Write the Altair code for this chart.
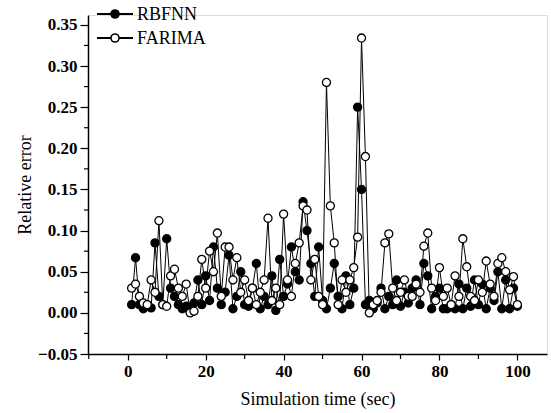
import altair as alt
import pandas as pd

time_sec = list(range(1, 101))
rbfnn = [0.010, 0.067, 0.010, 0.005, 0.008, 0.006, 0.085, 0.020, 0.010, 0.090,
         0.030, 0.020, 0.010, 0.005, 0.008, 0.003, 0.012, 0.040, 0.010, 0.045,
         0.015, 0.080, 0.030, 0.010, 0.025, 0.070, 0.005, 0.020, 0.050, 0.010,
         0.008, 0.030, 0.060, 0.005, 0.020, 0.010, 0.045, 0.003, 0.065, 0.020,
         0.035, 0.080, 0.050, 0.040, 0.135, 0.100, 0.060, 0.020, 0.080, 0.015,
         0.005, 0.030, 0.060, 0.020, 0.005, 0.045, 0.010, 0.030, 0.250, 0.150,
         0.010, 0.015, 0.005, 0.012, 0.030, 0.005, 0.020, 0.010, 0.040, 0.008,
         0.025, 0.012, 0.030, 0.040, 0.010, 0.060, 0.045, 0.005, 0.020, 0.030,
         0.005, 0.005, 0.010, 0.005, 0.035, 0.005, 0.030, 0.008, 0.040, 0.010,
         0.035, 0.005, 0.030, 0.015, 0.050, 0.005, 0.040, 0.005, 0.030, 0.008]
farima = [0.030, 0.035, 0.020, 0.012, 0.010, 0.040, 0.025, 0.112, 0.010, 0.008,
          0.045, 0.053, 0.030, 0.020, 0.035, 0.000, 0.002, 0.020, 0.065, 0.030,
          0.075, 0.050, 0.097, 0.020, 0.080, 0.080, 0.040, 0.067, 0.025, 0.040,
          0.015, 0.030, 0.010, 0.025, 0.040, 0.115, 0.015, 0.030, 0.010, 0.120,
          0.040, 0.020, 0.060, 0.085, 0.130, 0.125, 0.040, 0.065, 0.020, 0.010,
          0.280, 0.130, 0.085, 0.010, 0.040, 0.025, 0.040, 0.055, 0.092, 0.334,
          0.190, 0.000, 0.010, 0.015, 0.025, 0.085, 0.096, 0.030, 0.015, 0.025,
          0.040, 0.020, 0.020, 0.035, 0.025, 0.081, 0.097, 0.030, 0.015, 0.055,
          0.020, 0.030, 0.010, 0.045, 0.020, 0.090, 0.056, 0.020, 0.015, 0.040,
          0.025, 0.063, 0.035, 0.020, 0.060, 0.067, 0.050, 0.028, 0.044, 0.010]
series_names = ["RBFNN", "FARIMA"]
x_major = [0, 20, 40, 60, 80, 100]
x_minor = [-10, 10, 30, 50, 70, 90]
y_major = [-0.05, 0.0, 0.05, 0.1, 0.15, 0.2, 0.25, 0.3, 0.35]
y_minor = [-0.025, 0.025, 0.075, 0.125, 0.175, 0.225, 0.275, 0.325]

rows = []
for name, vals in zip(series_names, [rbfnn, farima]):
    for t, v in zip(time_sec, vals):
        rows.append({"t": t, "err": v, "series": name})
df = pd.DataFrame(rows)

FONT = "Liberation Serif"

xs = alt.Scale(domain=[-10.2, 107.6], nice=False, zero=False)
ys = alt.Scale(domain=[-0.05, 0.362], nice=False, zero=False)

x_enc = alt.X("t:Q", scale=xs, axis=alt.Axis(
    values=x_major, title="Simulation time (sec)",
    tickSize=6, labelPadding=3, titlePadding=11))
y_enc = alt.Y("err:Q", scale=ys, axis=alt.Axis(
    values=y_major, title="Relative error", format=".2f",
    tickSize=8, labelPadding=3, titlePadding=3))

lines = alt.Chart(df).mark_line(color="black", strokeWidth=1).encode(
    x=x_enc, y=y_enc, detail="series:N", order="t:Q")
points = alt.Chart(df).mark_point(filled=False, size=65, stroke="black", strokeWidth=1.3, opacity=1).encode(
    x=x_enc, y=y_enc,
    fill=alt.Fill("series:N", scale=alt.Scale(domain=series_names, range=["black", "white"]), legend=None))

xminor = alt.Chart(pd.DataFrame({"t": x_minor})).mark_rule(color="black", strokeWidth=1.2).encode(
    x=alt.X("t:Q", scale=xs), y=alt.value(339), y2=alt.value(344))
yminor = alt.Chart(pd.DataFrame({"err": y_minor})).mark_rule(color="black", strokeWidth=1.2).encode(
    y=alt.Y("err:Q", scale=ys), x=alt.value(-4), x2=alt.value(0))

leg_df = pd.DataFrame({"series": series_names})
legend_layers = []
for i, name in enumerate(series_names):
    yy = -1 + 24 * i
    sub = alt.Chart(leg_df).transform_filter(alt.datum.series == name)
    legend_layers.append(sub.mark_rule(color="black", strokeWidth=2).encode(
        x=alt.value(9), x2=alt.value(45), y=alt.value(yy)))
    legend_layers.append(sub.mark_point(size=65, stroke="black", strokeWidth=1.6, opacity=1,
                                        fill="black" if i == 0 else "white").encode(
        x=alt.value(27), y=alt.value(yy)))
    legend_layers.append(sub.mark_text(font=FONT, fontSize=18, align="left", baseline="middle",
                                       color="black").encode(
        x=alt.value(49), y=alt.value(yy + 1), text="series:N"))

chart = alt.layer(lines, points, xminor, yminor, *legend_layers).properties(
    width=459, height=339,
    autosize=alt.AutoSizeParams(type="none"),
    padding={"left": 88, "top": 15, "right": 4, "bottom": 59},
).configure_view(stroke=None, clip=False).configure(background="white", font=FONT).configure_axis(
    grid=False, tickColor="black", domainColor="black", domainWidth=1.5, tickWidth=1.2,
    labelFont=FONT, labelFontSize=17, labelFontWeight="bold", labelColor="black",
    titleFont=FONT, titleFontSize=18, titleFontWeight="normal", titleColor="black"
).configure_text(font=FONT)

chart.save("out.html", embed_options={"renderer": "svg", "actions": False})
